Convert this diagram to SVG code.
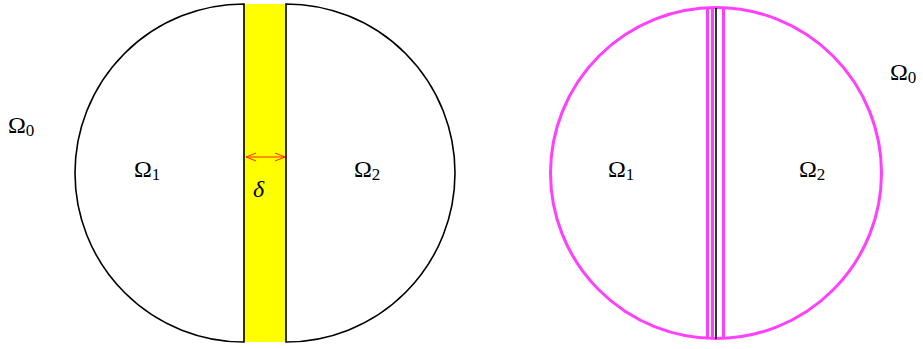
<svg xmlns="http://www.w3.org/2000/svg" width="923" height="349" viewBox="0 0 923 349">
<style>
.lbl{font-family:"Liberation Serif","Times New Roman",serif;font-size:24px;fill:#000}
.sub{font-size:17px}
.blk{fill:none;stroke:#000;stroke-width:1.6}
.mag{fill:none;stroke:#ff40ff;stroke-width:3}
</style>
<defs>
<marker id="ah" viewBox="0 0 10 10" refX="10" refY="5" markerWidth="10" markerHeight="10" markerUnits="userSpaceOnUse" orient="auto-start-reverse">
<path d="M0,1 L10,5 L0,9" fill="none" stroke="#ff2a00" stroke-width="1"/>
</marker>
</defs>
<g id="strip">
<rect x="244" y="4" width="42" height="338" fill="#ffff00"/>
</g>
<g id="omega1-left">
<path class="blk" d="M244,4 A169,169 0 0 0 244,342 Z"/>
<text class="lbl" x="134" y="177">Ω<tspan class="sub" dy="3">1</tspan></text>
</g>
<g id="omega2-left">
<path class="blk" d="M286,4 A169,169 0 0 1 286,342 Z"/>
<text class="lbl" x="354" y="177">Ω<tspan class="sub" dy="3">2</tspan></text>
</g>
<g id="omega0-left">
<text class="lbl" x="8" y="133">Ω<tspan class="sub" dy="3">0</tspan></text>
</g>
<g id="connectors">
<line x1="246" y1="157" x2="285" y2="157" stroke="#ff2a00" stroke-width="1" marker-start="url(#ah)" marker-end="url(#ah)"/>
<text class="lbl" x="253" y="197" font-style="italic">δ</text>
</g>
<g id="right-domain">
<circle class="mag" cx="716" cy="173" r="165.5"/>
<line class="mag" x1="707.5" y1="8" x2="707.5" y2="338.5"/>
<line class="mag" x1="712.5" y1="8" x2="712.5" y2="338.5"/>
<line class="mag" x1="723.5" y1="8" x2="723.5" y2="338.5"/>
<line x1="716" y1="8" x2="716" y2="339" stroke="#000" stroke-width="1.6"/>
</g>
<g id="omega1-right">
<text class="lbl" x="608" y="177">Ω<tspan class="sub" dy="3">1</tspan></text>
</g>
<g id="omega2-right">
<text class="lbl" x="799" y="177">Ω<tspan class="sub" dy="3">2</tspan></text>
</g>
<g id="omega0-right">
<text class="lbl" x="890" y="80">Ω<tspan class="sub" dy="3">0</tspan></text>
</g>
</svg>
